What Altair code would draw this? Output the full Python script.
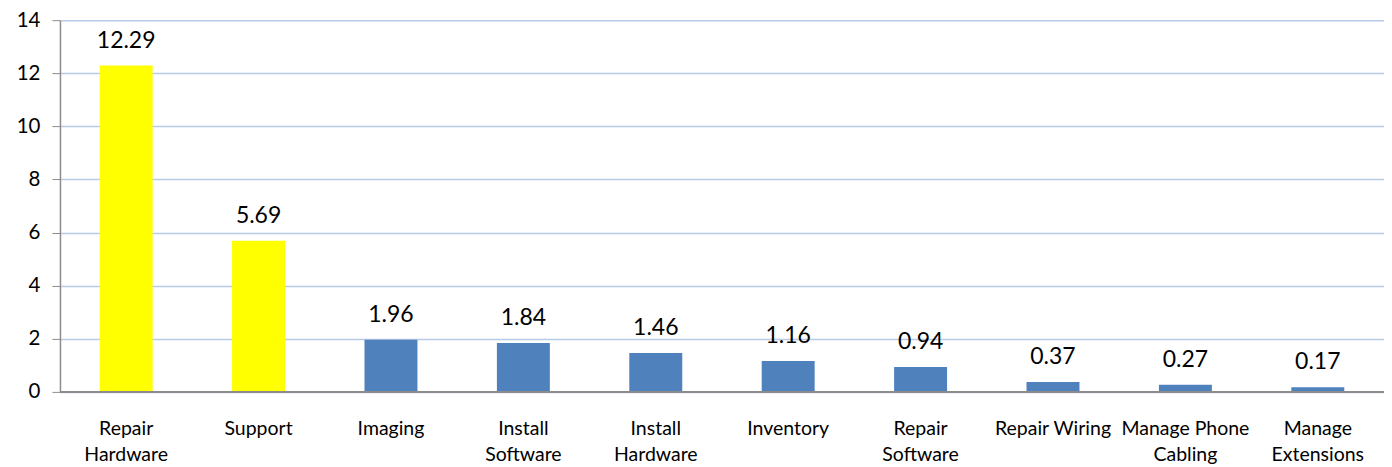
import altair as alt
import pandas as pd

categories = ["Repair Hardware", "Support", "Imaging", "Install Software", "Install Hardware",
              "Inventory", "Repair Software", "Repair Wiring", "Manage Phone Cabling", "Manage Extensions"]
values = [12.29, 5.69, 1.96, 1.84, 1.46, 1.16, 0.94, 0.37, 0.27, 0.17]
colors = ["#FFFF00", "#FFFF00", "#4F81BD", "#4F81BD", "#4F81BD",
          "#4F81BD", "#4F81BD", "#4F81BD", "#4F81BD", "#4F81BD"]
label_lines = {
    "Repair Hardware": ["Repair", "Hardware"],
    "Install Software": ["Install", "Software"],
    "Install Hardware": ["Install", "Hardware"],
    "Repair Software": ["Repair", "Software"],
    "Manage Phone Cabling": ["Manage Phone", "Cabling"],
    "Manage Extensions": ["Manage", "Extensions"],
}

df = pd.DataFrame({"cat": categories, "val": values, "color": colors})

expr = "datum.label"
for k, v in label_lines.items():
    expr = f"datum.label == '{k}' ? ['{v[0]}', '{v[1]}'] : (" + expr + ")"

FONT = "Lato"

x = alt.X("cat:N", sort=categories, title=None,
          scale=alt.Scale(paddingInner=0.6, paddingOuter=0.3),
          axis=alt.Axis(labelAngle=0, labelExpr=expr, labelFontSize=19.5, labelFont=FONT,
                        labelColor="#000000", labelPadding=37, labelLineHeight=26,
                        ticks=False, domain=False, grid=False, labelBaseline="middle"))
y = alt.Y("val:Q", title=None,
          scale=alt.Scale(domain=[0, 14], nice=False),
          axis=alt.Axis(values=[0, 2, 4, 6, 8, 10, 12, 14], labelFontSize=20.5, labelFont=FONT,
                        labelColor="#000000", labelPadding=12, tickSize=8, tickColor="#8C8C8C",
                        domainColor="#8C8C8C", domainWidth=1.5, gridColor="#B8CBE8",
                        gridWidth=1.5))

bars = alt.Chart(df).mark_bar().encode(
    x=x, y=y, color=alt.Color("color:N", scale=None)
)
text = alt.Chart(df).mark_text(baseline="alphabetic", dy=-18, fontSize=23, font=FONT,
                               color="#000000").encode(
    x=alt.X("cat:N", sort=categories), y="val:Q", text=alt.Text("val:Q", format=".2f")
)
base = alt.Chart(df).mark_rule(color="#8C8C8C", strokeWidth=1.5).encode(y=alt.datum(0))

chart = alt.layer(bars, base, text).properties(
    width=1325, height=372,
    autosize=alt.AutoSizeParams(type="none"),
    padding={"left": 52, "top": 12, "right": 0, "bottom": 76},
).configure_view(stroke=None).configure(background="#FFFFFF")

chart.save("out.html", embed_options={"renderer": "svg", "actions": False})
